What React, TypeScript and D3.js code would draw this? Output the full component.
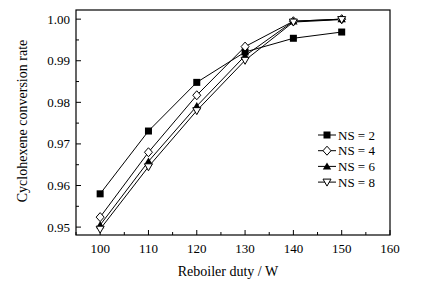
import React from "react";
import * as d3 from "d3";

const duty = [100, 110, 120, 130, 140, 150];
const ns2 = [0.958, 0.9731, 0.9848, 0.9921, 0.9954, 0.9969];
const ns4 = [0.9524, 0.968, 0.9817, 0.9934, 0.9995, 1.0];
const ns6 = [0.9505, 0.9658, 0.9791, 0.9912, 0.9995, 1.0];
const ns8 = [0.9495, 0.9645, 0.978, 0.9901, 0.9993, 0.9999];
const seriesNames = ["NS = 2", "NS = 4", "NS = 6", "NS = 8"];
const xTicks = [100, 110, 120, 130, 140, 150, 160];
const yTicks = [0.95, 0.96, 0.97, 0.98, 0.99, 1.0];

const W = 431, H = 284;
const m = { left: 76, top: 10, right: 390, bottom: 235 };
const font = "'Liberation Serif', 'Times New Roman', serif";

function Marker({ kind, x, y }: { kind: number; x: number; y: number }) {
  if (kind === 0) return <rect x={x - 3.5} y={y - 3.5} width={7} height={7} fill="#000" />;
  if (kind === 1)
    return <path d={`M${x},${y - 4.5}L${x + 4},${y}L${x},${y + 4.5}L${x - 4},${y}Z`} fill="#fff" stroke="#000" strokeWidth={1} />;
  if (kind === 2)
    return <path d={`M${x},${y - 4}L${x + 4.2},${y + 3.2}L${x - 4.2},${y + 3.2}Z`} fill="#000" />;
  return <path d={`M${x - 4},${y - 3}L${x + 4},${y - 3}L${x},${y + 4}Z`} fill="#fff" stroke="#000" strokeWidth={1} />;
}

export default function App() {
  const x = d3.scaleLinear().domain([95, 160]).range([m.left, m.right]);
  const y = d3.scaleLinear().domain([0.9481, 1.0022]).range([m.bottom, m.top]);
  const all = [ns2, ns4, ns6, ns8];
  const line = d3.line<number>().x((_, i) => x(duty[i])).y((d) => y(d));
  const xMinor = d3.range(95, 160.1, 5);
  const yMinor = d3.range(0.95, 1.0021, 0.005);
  return (
    <svg width={W} height={H} style={{ position: "absolute", left: 0, top: 0, background: "#fff" }}>
      <rect width={W} height={H} fill="#fff" />
      {xMinor.map((t) => {
        const major = Math.abs(Math.round(t / 10) * 10 - t) < 1e-6;
        return <line key={"xm" + t} x1={x(t)} x2={x(t)} y1={m.bottom} y2={m.bottom - (major ? 5 : 3)} stroke="#000" />;
      })}
      {yMinor.map((t, i) => (
        <line key={"ym" + i} x1={m.left} x2={m.left + (i % 2 === 0 ? 5 : 3)} y1={y(t)} y2={y(t)} stroke="#000" />
      ))}
      <rect x={m.left} y={m.top} width={m.right - m.left} height={m.bottom - m.top} fill="none" stroke="#000" strokeWidth={1.2} />
      {xTicks.map((t) => (
        <text key={"xt" + t} x={x(t)} y={m.bottom + 18} fontFamily={font} fontSize={13} textAnchor="middle">{t}</text>
      ))}
      {yTicks.map((t) => (
        <text key={"yt" + t} x={m.left - 6} y={y(t) + 4.5} fontFamily={font} fontSize={13} textAnchor="end">{t.toFixed(2)}</text>
      ))}
      {all.map((s, k) => (
        <path key={"l" + k} d={line(s) || ""} fill="none" stroke="#000" strokeWidth={1} />
      ))}
      {all.map((s, k) => s.map((v, i) => <Marker key={`m${k}-${i}`} kind={k} x={x(duty[i])} y={y(v)} />))}
      {seriesNames.map((n, k) => {
        const ly = 135 + k * 15.7;
        return (
          <g key={"lg" + k}>
            <line x1={318} x2={336} y1={ly} y2={ly} stroke="#000" />
            <Marker kind={k} x={327} y={ly} />
            <text x={338} y={ly + 4.5} fontFamily={font} fontSize={13}>{n}</text>
          </g>
        );
      })}
      <text x={228} y={276} fontFamily={font} fontSize={14} textAnchor="middle">Reboiler duty / W</text>
      <text transform={`translate(27,121) rotate(-90)`} fontFamily={font} fontSize={14} textAnchor="middle">Cyclohexene conversion rate</text>
    </svg>
  );
}
